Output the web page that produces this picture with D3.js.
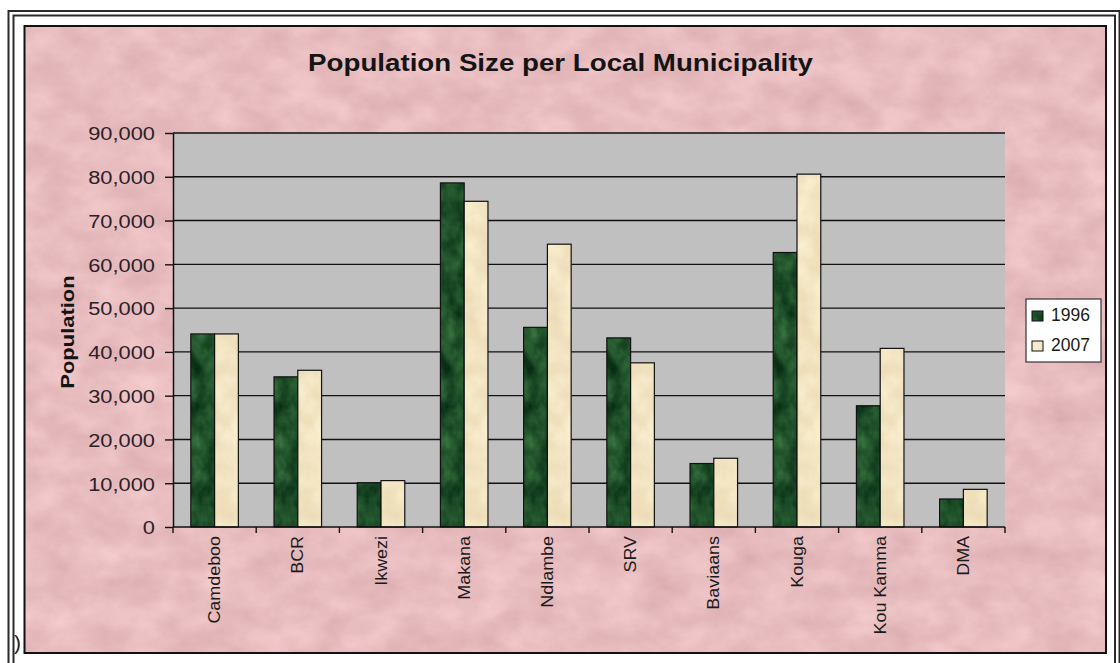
<!DOCTYPE html>
<html>
<head>
<meta charset="utf-8">
<script src="https://cdn.jsdelivr.net/npm/d3@7"></script>
<style>
  html, body { margin: 0; padding: 0; background: #ffffff; }
  svg { display: block; font-family: "Liberation Sans", Arial, sans-serif; }
</style>
</head>
<body>
<script>
// ---- Data ----
const categories = ["Camdeboo", "BCR", "Ikwezi", "Makana", "Ndlambe", "SRV", "Baviaans", "Kouga", "Kou Kamma", "DMA"];
const seriesNames = ["1996", "2007"];
const pop1996 = [44100, 34300, 10100, 78600, 45600, 43200, 14500, 62700, 27700, 6400];
const pop2007 = [44100, 35800, 10600, 74400, 64600, 37500, 15700, 80600, 40800, 8600];
const yTicks = [0, 10000, 20000, 30000, 40000, 50000, 60000, 70000, 80000, 90000];
const titleText = "Population Size per Local Municipality";
const yTitleText = "Population";

// ---- Layout ----
const W = 1120, H = 663;
const plot = { left: 173, right: 1005, top: 133, bottom: 527 };

const svg = d3.select("body").append("svg").attr("width", W).attr("height", H);
const defs = svg.append("defs");

// Mottled paper/marble fills built from turbulence noise
function noiseFill(id, freq, octaves, seed, matrix) {
  const f = defs.append("filter").attr("id", id + "Noise")
    .attr("filterUnits", "userSpaceOnUse")
    .attr("color-interpolation-filters", "sRGB")
    .attr("x", 0).attr("y", 0).attr("width", W).attr("height", H);
  f.append("feTurbulence").attr("type", "fractalNoise")
    .attr("baseFrequency", freq).attr("numOctaves", octaves).attr("seed", seed);
  f.append("feColorMatrix").attr("type", "matrix").attr("values", matrix);
  const p = defs.append("pattern").attr("id", id)
    .attr("patternUnits", "userSpaceOnUse")
    .attr("x", 0).attr("y", 0).attr("width", W).attr("height", H);
  p.append("rect").attr("width", W).attr("height", H).attr("filter", `url(#${id}Noise)`);
}
noiseFill("pinkFill", "0.025 0.035", 5, 7,
  "0.12 0 0 0 0.85  0.15 0 0 0 0.665  0.15 0 0 0 0.675  0 0 0 0 1");
noiseFill("greenFill", "0.06 0.04", 4, 3,
  "0.30 0 0 0 -0.03  0.42 0 0 0 0.10  0.26 0 0 0 0.03  0 0 0 0 1");
noiseFill("creamFill", "0.05 0.04", 4, 11,
  "0.08 0 0 0 0.91  0.12 0 0 0 0.835  0.16 0 0 0 0.68  0 0 0 0 1");
const seriesFill = { "1996": "url(#greenFill)", "2007": "url(#creamFill)" };

// ---- Frame ----
svg.append("rect").attr("x", 8.5).attr("y", 11).attr("width", 1111).attr("height", 700)
  .attr("fill", "none").attr("stroke", "#2a2a2a").attr("stroke-width", 2);
svg.append("rect").attr("x", 13.5).attr("y", 15.5).attr("width", 1101.5).attr("height", 700)
  .attr("fill", "none").attr("stroke", "#2a2a2a").attr("stroke-width", 2);
svg.append("rect").attr("x", 24.5).attr("y", 26).attr("width", 1081.5).attr("height", 627)
  .attr("fill", "url(#pinkFill)").attr("stroke", "#111").attr("stroke-width", 2);
svg.append("text").attr("x", 14).attr("y", 650).attr("font-size", 21).attr("fill", "#222").text(")");

// ---- Scales ----
const x0 = d3.scaleBand().domain(categories)
  .range([plot.left, plot.right]).paddingInner(1.5 / 3.5).paddingOuter(0.75 / 3.5);
const x1 = d3.scaleBand().domain(seriesNames).range([0, x0.bandwidth()]);
const y = d3.scaleLinear().domain([0, 90000]).range([plot.bottom, plot.top]);

// ---- Plot area ----
svg.append("rect").attr("x", plot.left).attr("y", plot.top)
  .attr("width", plot.right - plot.left).attr("height", plot.bottom - plot.top)
  .attr("fill", "#c0c0c0");

svg.append("g").selectAll("line").data(yTicks.filter(d => d > 0)).join("line")
  .attr("x1", plot.left).attr("x2", plot.right)
  .attr("y1", d => y(d)).attr("y2", d => y(d))
  .attr("stroke", "#111").attr("stroke-width", 1.4);

// ---- Bars ----
const rows = categories.map((c, i) => ({ cat: c, values: [
  { key: "1996", value: pop1996[i] }, { key: "2007", value: pop2007[i] }] }));

const groups = svg.append("g").selectAll("g").data(rows).join("g")
  .attr("transform", d => `translate(${x0(d.cat)},0)`);
groups.selectAll("rect").data(d => d.values).join("rect")
  .attr("x", d => x1(d.key)).attr("width", x1.bandwidth())
  .attr("y", d => y(d.value)).attr("height", d => y(0) - y(d.value))
  .attr("fill", d => seriesFill[d.key])
  .attr("stroke", "#111").attr("stroke-width", 1.2);

// ---- Y axis ----
const yAxis = svg.append("g").attr("transform", `translate(${plot.left},0)`)
  .call(d3.axisLeft(y).tickValues(yTicks).tickFormat(d3.format(",")).tickSize(8).tickSizeOuter(0));
yAxis.select(".domain").attr("stroke", "#111").attr("stroke-width", 1.5);
yAxis.selectAll(".tick line").attr("stroke", "#111").attr("stroke-width", 1.4);
yAxis.selectAll(".tick text")
  .attr("x", 0).attr("dy", "0.36em")
  .attr("transform", "translate(-18,0) scale(1.15,1)")
  .attr("font-size", 19).attr("font-family", "Liberation Sans, Arial, sans-serif")
  .attr("fill", "#2a2128");

// ---- X axis ----
svg.append("line").attr("x1", plot.left).attr("x2", plot.right)
  .attr("y1", plot.bottom).attr("y2", plot.bottom)
  .attr("stroke", "#111").attr("stroke-width", 1.5);
const step = x0.step();
const boundaries = d3.range(categories.length + 1).map(i => plot.left + i * step);
svg.append("g").selectAll("line").data(boundaries).join("line")
  .attr("x1", d => d).attr("x2", d => d)
  .attr("y1", plot.bottom).attr("y2", plot.bottom + 6)
  .attr("stroke", "#111").attr("stroke-width", 1.4);

svg.append("g").selectAll("text").data(categories).join("text")
  .attr("transform", d => `translate(${x0(d) + x0.bandwidth() / 2},536) rotate(-90) scale(1.12,1)`)
  .attr("text-anchor", "end").attr("dy", "0.35em")
  .attr("font-size", 16).attr("fill", "#1a1a1a")
  .text(d => d);

// ---- Titles ----
svg.append("text")
  .attr("transform", "translate(560.5,71) scale(1.155,1)")
  .attr("text-anchor", "middle").attr("font-size", 24).attr("font-weight", "bold")
  .attr("fill", "#141414").text(titleText);

svg.append("text")
  .attr("transform", "translate(74,332) rotate(-90) scale(1.22,1)")
  .attr("text-anchor", "middle").attr("font-size", 18).attr("font-weight", "bold")
  .attr("fill", "#141414").text(yTitleText);

// ---- Legend ----
const legend = svg.append("g");
legend.append("rect").attr("x", 1026).attr("y", 299).attr("width", 75).attr("height", 63)
  .attr("fill", "#ffffff").attr("stroke", "#333").attr("stroke-width", 1.2);
const items = legend.selectAll("g").data(seriesNames).join("g")
  .attr("transform", (d, i) => `translate(1032,${311 + i * 30})`);
items.append("rect").attr("width", 11).attr("height", 10)
  .attr("fill", d => seriesFill[d]).attr("stroke", "#111").attr("stroke-width", 1);
items.append("text").attr("x", 19).attr("y", 10)
  .attr("font-size", 17.5).attr("fill", "#1a1a1a").text(d => d);
</script>
</body>
</html>
